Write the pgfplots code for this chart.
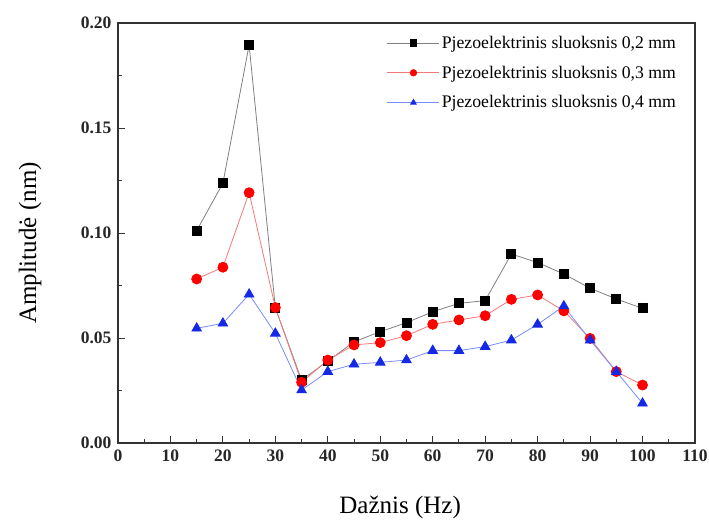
\documentclass[border=0pt]{standalone}
\usepackage{fontspec}
\setmainfont{Liberation Serif}
\usepackage{pgfplots}
\usepackage{pgfplotstable}
\pgfplotsset{compat=1.18}

% f = frequency (Hz), a/b/c = 0.2 / 0.3 / 0.4 mm layer
\pgfplotstableread{
f    a      b      c
15   0.1011 0.0781 0.0546
20   0.1237 0.0837 0.0570
25   0.1895 0.1192 0.0708
30   0.0643 0.0645 0.0522
35   0.0300 0.0289 0.0252
40   0.0390 0.0395 0.0340
45   0.0482 0.0467 0.0375
50   0.0530 0.0478 0.0384
55   0.0573 0.0511 0.0395
60   0.0625 0.0565 0.0440
65   0.0665 0.0586 0.0440
70   0.0678 0.0606 0.0459
75   0.0900 0.0684 0.0490
80   0.0859 0.0705 0.0565
85   0.0805 0.0629 0.0652
90   0.0737 0.0498 0.0490
95   0.0686 0.0340 0.0340
100  0.0641 0.0276 0.0189
}\datatable

\definecolor{linered}{RGB}{245,120,120}
\definecolor{lineblue}{RGB}{120,140,250}
\definecolor{markblue}{RGB}{20,40,230}

\begin{document}
\begin{tikzpicture}
\begin{axis}[
    scale only axis,
    width=577pt, height=420pt,
    xmin=0, xmax=110, ymin=0, ymax=0.20,
    xtick={0,10,20,30,40,50,60,70,80,90,100,110},
    ytick={0,0.05,0.10,0.15,0.20},
    minor x tick num=1, minor y tick num=1,
    tick align=inside, tick pos=left,
    major tick length=7pt, minor tick length=4pt,
    axis line style={line width=1.1pt, black!80},
    every tick/.style={black!80, line width=1pt},
    /pgf/number format/assume math mode=true,
    ticklabel style={font=\fontsize{17.5}{19}\selectfont\bfseries, black!85},
    xticklabel style={yshift=-3pt},
    yticklabel style={xshift=-3pt, /pgf/number format/fixed, /pgf/number format/fixed zerofill,
        /pgf/number format/precision=2},
    scaled y ticks=false,
    xlabel={Dažnis (Hz)}, ylabel={Amplitudė (nm)},
    label style={font=\fontsize{25}{28}\selectfont},
    xlabel style={at={(axis description cs:0.489,-0.167)}, anchor=base},
    ylabel style={at={(axis description cs:-0.1525,0.476)}, anchor=center},
    legend style={at={(rel axis cs:0.466,0.974)}, anchor=north west, draw=none, fill=none,
        font=\fontsize{17.7}{19}\selectfont, row sep=12pt, inner sep=0pt},
    legend cell align=left,
    legend image code/.code={\draw[mark repeat=2, mark phase=2, #1, mark size=3.2pt]
        plot coordinates {(0pt,0pt) (26pt,0pt) (52pt,0pt)};},
]
\addplot[gray, line width=0.8pt, mark=square*, mark size=4.5pt,
    mark options={fill=black, draw=black}] table[x=f, y=a] {\datatable};
\addplot[linered, line width=0.8pt, mark=*, mark size=5pt,
    mark options={fill=red, draw=red}] table[x=f, y=b] {\datatable};
\addplot[lineblue, line width=0.8pt, mark=triangle*, mark size=5.5pt,
    mark options={fill=markblue, draw=markblue}] table[x=f, y=c] {\datatable};
\legend{{Pjezoelektrinis sluoksnis 0,2 mm}, {Pjezoelektrinis sluoksnis 0,3 mm},
    {Pjezoelektrinis sluoksnis 0,4 mm}}
\coordinate (bbsw) at (rel axis cs:-0.2045,-0.193);
\coordinate (bbne) at (rel axis cs:1.0243,1.0548);
\end{axis}
\pgfresetboundingbox
\path[use as bounding box] (bbsw) rectangle (bbne);
\end{tikzpicture}
\end{document}
